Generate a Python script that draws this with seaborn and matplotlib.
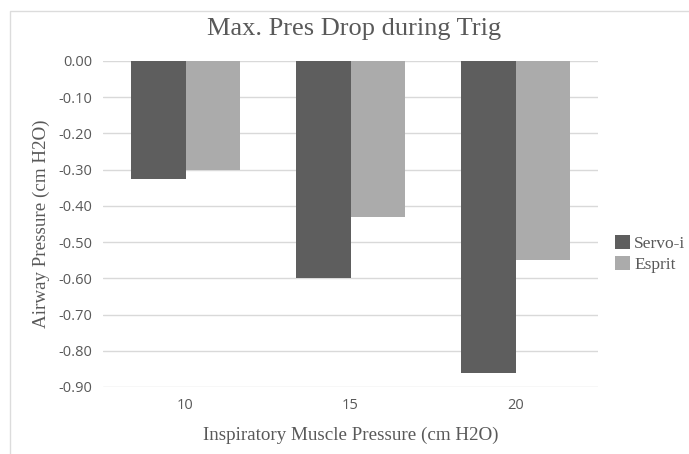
import pandas as pd
import matplotlib
matplotlib.use("Agg")
import matplotlib.pyplot as plt
import seaborn as sns
from matplotlib.patches import Rectangle

# data
muscle_pressure = ["10", "15", "20"]
servo_i = [-0.325, -0.60, -0.86]
esprit = [-0.30, -0.43, -0.55]
series_names = ["Servo-i", "Esprit"]
y_ticks = [0.0, -0.1, -0.2, -0.3, -0.4, -0.5, -0.6, -0.7, -0.8, -0.9]

df = pd.DataFrame({
    "pressure": muscle_pressure * 2,
    "value": servo_i + esprit,
    "device": [series_names[0]] * 3 + [series_names[1]] * 3,
})

sns.set_style("white")
text_col = "#595959"
serif = "Liberation Serif"
sans = "Open Sans"

fig = plt.figure(figsize=(6.89, 4.54), dpi=100)
ax = fig.add_axes([103 / 689, 1 - 387 / 454, 495 / 689, 326 / 454])

# light frame around the chart area like the original screenshot
fig.patches.append(Rectangle((10 / 689, -0.1), 1.2, 1 - 11 / 454 + 0.1,
                             transform=fig.transFigure, fill=False,
                             edgecolor="#dcdcdc", linewidth=1))

sns.barplot(data=df, x="pressure", y="value", hue="device", ax=ax,
            palette=["#5e5e5e", "#ababab"], width=0.655, gap=0,
            saturation=1, edgecolor="none", zorder=3)

ax.set_ylim(-0.9, 0.0)
ax.set_xlim(-0.5, 2.5)
ax.set_yticks(y_ticks)
ax.set_yticklabels([f"{v:.2f}" if v != 0 else "0.00" for v in y_ticks],
                   fontfamily=sans, fontsize=10.5, color=text_col)
ax.set_xticks(range(len(muscle_pressure)))
ax.set_xticklabels(muscle_pressure, fontfamily=sans, fontsize=10.5, color=text_col)
ax.tick_params(axis="both", length=0, pad=8)
ax.yaxis.grid(True, color="#d9d9d9", linewidth=1, zorder=0)
ax.set_axisbelow(True)
for s in ax.spines.values():
    s.set_visible(False)

ax.set_xlabel("Inspiratory Muscle Pressure (cm H2O)", fontfamily=serif,
              fontsize=13.7, color=text_col, labelpad=10)
ax.set_ylabel("Airway Pressure (cm H2O)", fontfamily=serif,
              fontsize=13.7, color=text_col, labelpad=6)
fig.text(354 / 689, 1 - 29 / 454, "Max. Pres Drop during Trig",
         fontfamily=serif, fontsize=19, color=text_col,
         ha="center", va="center")

handles, labels = ax.get_legend_handles_labels()
ax.legend(handles, labels, loc="center left",
          bbox_to_anchor=(615 / 689, 1 - 254 / 454),
          bbox_transform=fig.transFigure, frameon=False,
          prop={"family": serif, "size": 12.5}, labelcolor=text_col,
          handlelength=0.85, handleheight=0.85, handletextpad=0.25,
          labelspacing=0.25, borderpad=0, borderaxespad=0)

fig.savefig("out.png", dpi=100)
